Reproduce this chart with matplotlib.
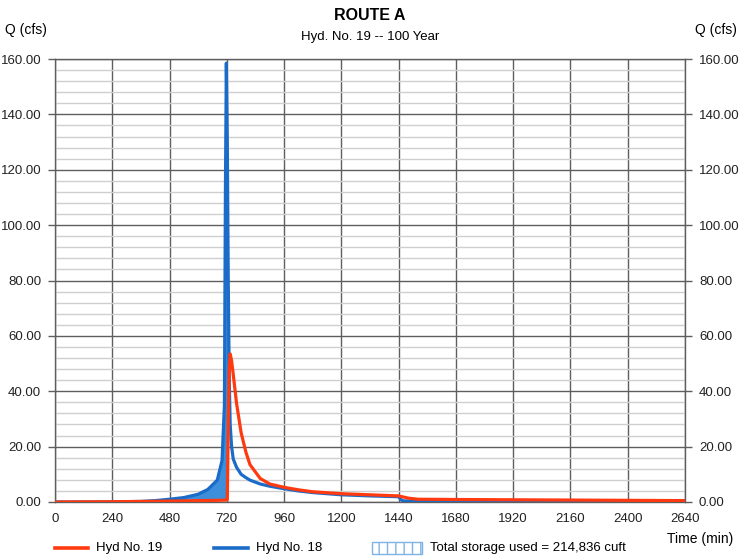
import matplotlib
matplotlib.use("Agg")
import matplotlib.pyplot as plt
from matplotlib.lines import Line2D
from matplotlib.patches import Rectangle
import numpy as np

plt.rcParams['font.family'] = ['Liberation Sans', 'DejaVu Sans']

# time (min) shared by both hydrographs
time_min = [0, 240, 360, 420, 480, 540, 600, 640, 680, 700, 710, 714, 718, 722,
            726, 730, 734, 740, 747, 761, 780, 800, 817, 860, 900, 960, 1020,
            1080, 1200, 1320, 1440, 1450, 1460, 1480, 1520, 1680, 1920, 2160,
            2400, 2640]

# Hyd No. 18 (inflow)
hyd18 = [0, 0.05, 0.2, 0.5, 1.0, 1.6, 2.8, 4.5, 7.9, 15, 35, 110, 158.5, 130,
         80, 45, 28, 20, 15.5, 12.5, 10, 8.8, 7.9, 6.5, 5.7, 4.8, 4.0, 3.4,
         2.6, 2.2, 1.9, 0.8, 0.4, 0.35, 0.35, 0.35, 0.3, 0.3, 0.3, 0.3]

# Hyd No. 19 (routed outflow)
hyd19 = [0, 0.1, 0.2, 0.25, 0.3, 0.4, 0.5, 0.55, 0.6, 0.65, 0.7, 0.7, 0.75, 0.8,
         28, 48, 53.5, 51, 46, 35.5, 25, 18, 13.5, 8.5, 6.5, 5.3, 4.4, 3.7,
         3.0, 2.6, 2.2, 2.0, 1.8, 1.4, 1.0, 0.9, 0.8, 0.7, 0.6, 0.5]

x_ticks = list(range(0, 2641, 240))
y_ticks = list(range(0, 161, 20))
legend_labels = ["Hyd No. 19", "Hyd No. 18", "Total storage used = 214,836 cuft"]

red = '#ff3a10'
blue = '#1a6cc8'
fill_blue = '#3d8fdb'
W, H = 740, 560
fs = 9.5

fig = plt.figure(figsize=(7.4, 5.6), dpi=100)
ax = fig.add_axes([55 / W, 58 / H, 630 / W, 443 / H])

t = np.array(time_min)
q18 = np.array(hyd18)
q19 = np.array(hyd19)

ax.fill_between(t, q19, q18, where=q18 > q19, interpolate=True,
                color=fill_blue, linewidth=0, zorder=2)
ax.plot(t, q18, color=blue, lw=2.3, zorder=3, solid_joinstyle='round')
ax.plot(t, q19, color=red, lw=2.3, zorder=4, solid_joinstyle='round')

ax.set_xlim(0, 2640)
ax.set_ylim(0, 160)
ax.set_xticks(x_ticks)
ax.set_yticks(y_ticks)
ax.set_yticks(np.arange(0, 161, 4), minor=True)
ax.set_yticklabels([f"{v:.2f}" for v in y_ticks])

ax.grid(which='minor', axis='y', color='#cfcfcf', lw=1.0, zorder=0)
ax.grid(which='major', axis='both', color='#5e5e5e', lw=1.0, zorder=1)
ax.set_axisbelow(True)

for s in ax.spines.values():
    s.set_color('#5e5e5e')
    s.set_linewidth(1.0)

ax.tick_params(axis='x', length=0, pad=8, labelsize=fs, colors='#222222')
ax.tick_params(axis='y', which='major', length=5, width=1, color='#5e5e5e',
               pad=5, labelsize=fs, labelcolor='#222222',
               right=True, labelright=True)
ax.tick_params(axis='y', which='minor', length=0)

fig.text(0.5, 1 - 15 / H, "ROUTE A", ha='center', va='center',
         fontsize=11.5, fontweight='bold')
fig.text(0.5, 1 - 37 / H, "Hyd. No. 19 -- 100 Year", ha='center',
         va='center', fontsize=fs)
fig.text(5 / W, 1 - 30 / H, "Q (cfs)", ha='left', va='center', fontsize=10)
fig.text(737 / W, 1 - 30 / H, "Q (cfs)", ha='right', va='center', fontsize=10)
fig.text(733 / W, 1 - 539 / H, "Time (min)", ha='right', va='center',
         fontsize=10)

# legend row at the bottom, drawn in figure pixels
ly = 1 - 548 / H
fig.add_artist(Line2D([55 / W, 88 / W], [ly, ly], color=red, lw=2.6))
fig.text(96 / W, ly, legend_labels[0], va='center', fontsize=fs)
fig.add_artist(Line2D([214 / W, 248 / W], [ly, ly], color=blue, lw=2.6))
fig.text(256 / W, ly, legend_labels[1], va='center', fontsize=fs)
fig.add_artist(Rectangle((372 / W, 1 - 554 / H), 50 / W, 12 / H,
                         transform=fig.transFigure, facecolor='white',
                         edgecolor='#7fb2e5', hatch='||', lw=1))
fig.text(430 / W, ly, legend_labels[2], va='center', fontsize=fs)

fig.savefig("out.png", dpi=100)
